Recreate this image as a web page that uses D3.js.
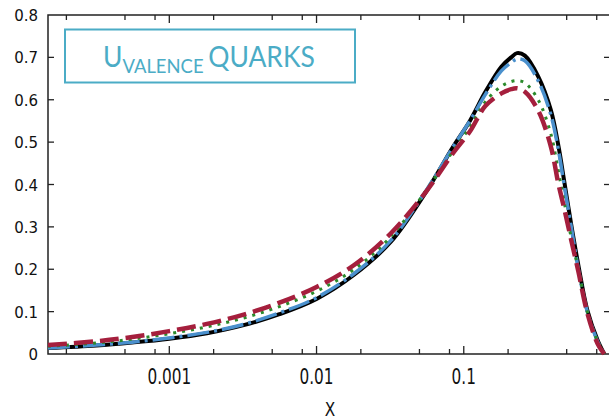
<!DOCTYPE html>
<html>
<head>
<meta charset="utf-8">
<script src="https://d3js.org/d3.v7.min.js"></script>
<style>
  body { margin: 0; background: #fff; }
  svg { display: block; }
</style>
</head>
<body>
<script>
'use strict';

// x values (momentum fraction) shared by all curves
const xValues = [0.00015, 0.00032, 0.00056, 0.001, 0.0018, 0.0032, 0.0056, 0.01, 0.018,
  0.032, 0.056, 0.085, 0.11, 0.14, 0.18, 0.21, 0.23, 0.26, 0.32, 0.39, 0.44, 0.48, 0.54,
  0.6, 0.69, 0.81, 0.9];

const blackValues = [0.014, 0.020, 0.027, 0.036, 0.049, 0.068, 0.094, 0.13, 0.187,
  0.265, 0.385, 0.49, 0.55, 0.618, 0.678, 0.70, 0.710, 0.704, 0.655, 0.576, 0.49, 0.41, 0.30,
  0.21, 0.104, 0.033, 0.0];
const blueValues = [0.014, 0.021, 0.028, 0.038, 0.051, 0.070, 0.097, 0.133, 0.19,
  0.268, 0.388, 0.49, 0.55, 0.612, 0.668, 0.688, 0.696, 0.692, 0.645, 0.565, 0.48, 0.40, 0.295,
  0.20, 0.10, 0.03, 0.0];
const greenValues = [0.018, 0.026, 0.035, 0.048, 0.064, 0.085, 0.112, 0.148, 0.20,
  0.277, 0.388, 0.48, 0.535, 0.595, 0.632, 0.643, 0.645, 0.64, 0.60, 0.52, 0.43, 0.36, 0.27,
  0.20, 0.10, 0.03, 0.0];
const redValues = [0.021, 0.030, 0.040, 0.054, 0.071, 0.093, 0.121, 0.158, 0.21,
  0.285, 0.385, 0.475, 0.525, 0.585, 0.615, 0.625, 0.627, 0.619, 0.575, 0.49, 0.40, 0.345, 0.265,
  0.195, 0.097, 0.025, 0.0];

const xMajorTicks = [0.001, 0.01, 0.1];
const xTickLabels = ['0.001', '0.01', '0.1'];
const xMinorTicks = [0.0002, 0.0005, 0.0008, 0.002, 0.005, 0.008, 0.02, 0.05, 0.08, 0.2, 0.5, 0.8];
const yTicks = [0, 0.1, 0.2, 0.3, 0.4, 0.5, 0.6, 0.7, 0.8];
const yTickLabels = ['0', '0.1', '0.2', '0.3', '0.4', '0.5', '0.6', '0.7', '0.8'];

(function() {

  const svg = d3.select('body').append('svg')
    .attr('width', 609)
    .attr('height', 420);

  const pLeft = 48, pRight = 611, pTop = 15, pBottom = 354;

  const xScale = d3.scaleLog().domain([0.00015, 1]).range([pLeft, pRight]);
  const yScale = d3.scaleLinear().domain([0, 0.8]).range([pBottom, pTop]);

  // frame
  svg.append('path')
    .attr('d', `M${pLeft},${pTop}H${pRight}V${pBottom}H${pLeft}Z`)
    .attr('fill', 'none')
    .attr('stroke', '#222')
    .attr('stroke-width', 1.5);

  // x ticks (inward, bottom and top)
  let xTickG = svg.append('g');
  xMajorTicks.forEach(t => {
    let x = xScale(t);
    xTickG.append('line').attr('x1', x).attr('x2', x).attr('y1', pBottom).attr('y2', pBottom - 8);
    xTickG.append('line').attr('x1', x).attr('x2', x).attr('y1', pTop).attr('y2', pTop + 8);
  });
  xMinorTicks.forEach(t => {
    let x = xScale(t);
    xTickG.append('line').attr('x1', x).attr('x2', x).attr('y1', pBottom).attr('y2', pBottom - 5);
    xTickG.append('line').attr('x1', x).attr('x2', x).attr('y1', pTop).attr('y2', pTop + 5);
  });
  xTickG.selectAll('line').attr('stroke', '#222').attr('stroke-width', 1.3);

  // y ticks (inward, left and right)
  let yTickG = svg.append('g');
  yTicks.slice(1, -1).forEach(t => {
    let y = yScale(t);
    yTickG.append('line').attr('x1', pLeft).attr('x2', pLeft + 6).attr('y1', y).attr('y2', y);
    yTickG.append('line').attr('x1', pRight).attr('x2', pRight - 7).attr('y1', y).attr('y2', y);
  });
  yTickG.selectAll('line').attr('stroke', '#222').attr('stroke-width', 1.3);

  // tick labels
  yTicks.forEach((t, i) => {
    svg.append('text')
      .attr('x', 38)
      .attr('y', yScale(t) + 6)
      .attr('text-anchor', 'end')
      .style('font-family', 'DejaVu Sans')
      .style('font-size', '15px')
      .attr('fill', '#111')
      .text(yTickLabels[i]);
  });

  xMajorTicks.forEach((t, i) => {
    svg.append('text')
      .attr('transform', `translate(${xScale(t)}, 384) scale(0.9, 1.25)`)
      .attr('text-anchor', 'middle')
      .style('font-family', 'DejaVu Sans')
      .style('font-size', '17px')
      .attr('fill', '#111')
      .text(xTickLabels[i]);
  });

  svg.append('text')
    .attr('transform', 'translate(330, 416) scale(0.9, 1.15)')
    .attr('text-anchor', 'middle')
    .style('font-family', 'DejaVu Sans')
    .style('font-size', '17px')
    .attr('fill', '#111')
    .text('X');

  // curves
  const series = [
    { values: blackValues, color: '#000000', width: 4, dash: null },
    { values: blueValues, color: '#4a90cd', width: 3.5, dash: '22,5,3,5' },
    { values: greenValues, color: '#2b8a2b', width: 3, dash: '3,6' },
    { values: redValues, color: '#a51f3d', width: 4.5, dash: '19,7' }
  ];

  const line = d3.line()
    .x(d => xScale(d[0]))
    .y(d => yScale(d[1]))
    .curve(d3.curveCatmullRom.alpha(0.5));

  series.forEach(s => {
    svg.append('path')
      .datum(xValues.map((x, i) => [x, s.values[i]]))
      .attr('d', line)
      .attr('fill', 'none')
      .attr('stroke', s.color)
      .attr('stroke-width', s.width)
      .attr('stroke-dasharray', s.dash)
      .attr('stroke-linejoin', 'round');
  });

  // legend box
  svg.append('rect')
    .attr('x', 65)
    .attr('y', 29.5)
    .attr('width', 290)
    .attr('height', 53)
    .attr('fill', '#fff')
    .attr('stroke', '#4bacc6')
    .attr('stroke-width', 2);

  let title = svg.append('text')
    .attr('transform', 'translate(103, 67) scale(0.945, 1)')
    .style('font-family', 'Lato')
    .attr('fill', '#4bacc6');
  title.append('tspan').style('font-size', '28px').text('U');
  title.append('tspan').style('font-size', '19.5px').attr('dy', 6).text('VALENCE');
  title.append('tspan').style('font-size', '28px').attr('dy', -6).attr('dx', 5).text('QUARKS');

})();
</script>
</body>
</html>
